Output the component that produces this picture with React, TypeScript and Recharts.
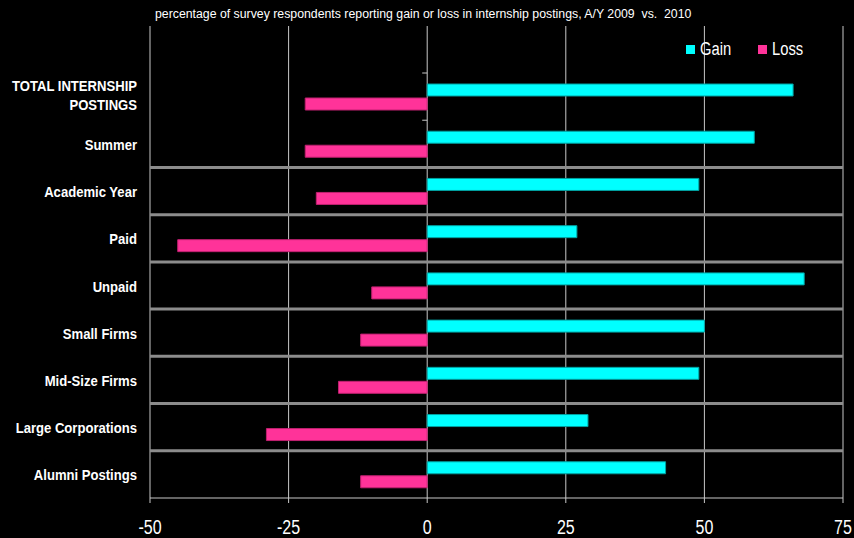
import React from "react";
import {
  BarChart,
  Bar,
  XAxis,
  YAxis,
  CartesianGrid,
  Legend,
  ReferenceLine,
} from "recharts";

const categories = [
  "TOTAL INTERNSHIP POSTINGS",
  "Summer",
  "Academic Year",
  "Paid",
  "Unpaid",
  "Small Firms",
  "Mid-Size Firms",
  "Large Corporations",
  "Alumni Postings",
];
const gainValues = [66, 59, 49, 27, 68, 50, 49, 29, 43];
const lossValues = [-22, -22, -20, -45, -10, -12, -16, -29, -12];
const xTicks = [-50, -25, 0, 25, 50, 75];
const seriesNames = ["Gain", "Loss"];
const title =
  "percentage of survey respondents reporting gain or loss in internship postings, A/Y 2009  vs.  2010";

const GAIN = "#00ffff";
const LOSS = "#ff3399";
const GRID = "#c8c8c8";
const FONT = "'Liberation Sans', Arial, sans-serif";
// no Arial Narrow here, so squeeze Liberation Sans horizontally
const NARROW = 0.82;
const LABEL_NARROW = 0.845;

const data = categories.map((name, i) => ({
  name,
  gain: gainValues[i],
  loss: lossValues[i],
}));

// simple word wrap for the long first label
const wrapLabel = (text: string, max = 20) => {
  const lines: string[] = [];
  let cur = "";
  text.split(" ").forEach((w) => {
    if (cur && (cur + " " + w).length > max) {
      lines.push(cur);
      cur = w;
    } else {
      cur = cur ? cur + " " + w : w;
    }
  });
  if (cur) lines.push(cur);
  return lines;
};

const CategoryTick = (props: any) => {
  const { x, y, payload } = props;
  const lines = wrapLabel(String(payload.value));
  const lh = 19;
  const first = lines.length > 1 ? -5.5 : 6;
  return (
    <g transform={`translate(${x},${y}) scale(${LABEL_NARROW},1)`}>
      <text
        x={0}
        y={0}
        textAnchor="end"
        fill="#ffffff"
        fontSize={15.5}
        fontWeight="bold"
        fontFamily={FONT}
      >
        {lines.map((l, i) => (
          <tspan key={i} x={0} dy={i === 0 ? first : lh}>
            {l}
          </tspan>
        ))}
      </text>
    </g>
  );
};

const ValueTick = (props: any) => {
  const { x, y, payload } = props;
  return (
    <g transform={`translate(${x},${y}) scale(${NARROW},1)`}>
      <text x={0} y={31} textAnchor="middle" fill="#ffffff" fontSize={19.5} fontFamily={FONT}>
        {payload.value}
      </text>
    </g>
  );
};

const LegendBox = () => {
  const colors = [GAIN, LOSS];
  return (
    <div style={{ display: "flex", fontFamily: FONT, fontSize: 18, color: "#fff", lineHeight: "20px" }}>
      {seriesNames.map((n, i) => (
        <div key={n} style={{ display: "flex", alignItems: "center", width: 72 }}>
          <span
            style={{ width: 9, height: 9, background: colors[i], display: "inline-block", marginRight: 5 }}
          />
          <span style={{ display: "inline-block", transform: `scaleX(${NARROW})`, transformOrigin: "left center" }}>
            {n}
          </span>
        </div>
      ))}
    </div>
  );
};

export default function App() {
  return (
    <div
      style={{
        position: "absolute",
        left: 0,
        top: 0,
        width: 854,
        height: 538,
        background: "#000",
      }}
    >
      <div
        style={{
          position: "absolute",
          left: 155,
          top: 7,
          color: "#fff",
          fontFamily: FONT,
          fontSize: 12.3,
          whiteSpace: "pre",
        }}
      >
        {title}
      </div>
      <BarChart
        width={854}
        height={538}
        data={data}
        layout="vertical"
        margin={{ top: 26, right: 11, bottom: 10, left: 0 }}
        barSize={12}
        barGap={2}
      >
        <CartesianGrid horizontal={false} stroke={GRID} strokeWidth={1} />
        <XAxis
          type="number"
          domain={[-50, 75]}
          ticks={xTicks}
          axisLine={{ stroke: GRID }}
          tickLine={{ stroke: GRID }}
          tickSize={5}
          tickMargin={0}
          height={30}
          tick={<ValueTick />}
        />
        <XAxis
          xAxisId="top"
          orientation="top"
          type="number"
          domain={[-50, 75]}
          ticks={xTicks}
          height={0}
          tick={false}
          tickLine={false}
          axisLine={{ stroke: GRID }}
        />
        <YAxis
          type="category"
          dataKey="name"
          width={150}
          padding={{ top: 47, bottom: 0 }}
          axisLine={false}
          tickLine={false}
          tickSize={0}
          tickMargin={13}
          tick={<CategoryTick />}
          interval={0}
        />
        {/* little category ticks on the zero line */}
        {categories.map((c) => (
          <ReferenceLine
            key={"t" + c}
            segment={[
              { x: -0.9, y: c },
              { x: 0, y: c },
            ]}
            position="start"
            stroke={GRID}
            strokeWidth={1}
          />
        ))}
        {categories.slice(2).map((c) => (
          <ReferenceLine
            key={c}
            y={c}
            position="start"
            stroke="#8c8c8c"
            strokeWidth={3}
          />
        ))}
        <Legend
          layout="horizontal"
          align="center"
          verticalAlign="middle"
          wrapperStyle={{ left: 686, top: 39, width: 150 }}
          content={<LegendBox />}
        />
        <Bar
          dataKey="gain"
          name={seriesNames[0]}
          fill={GAIN}
          stroke="#00a0a0"
          strokeWidth={1}
          isAnimationActive={false}
        />
        <Bar
          dataKey="loss"
          name={seriesNames[1]}
          fill={LOSS}
          stroke="#c02070"
          strokeWidth={1}
          isAnimationActive={false}
        />
      </BarChart>
    </div>
  );
}
